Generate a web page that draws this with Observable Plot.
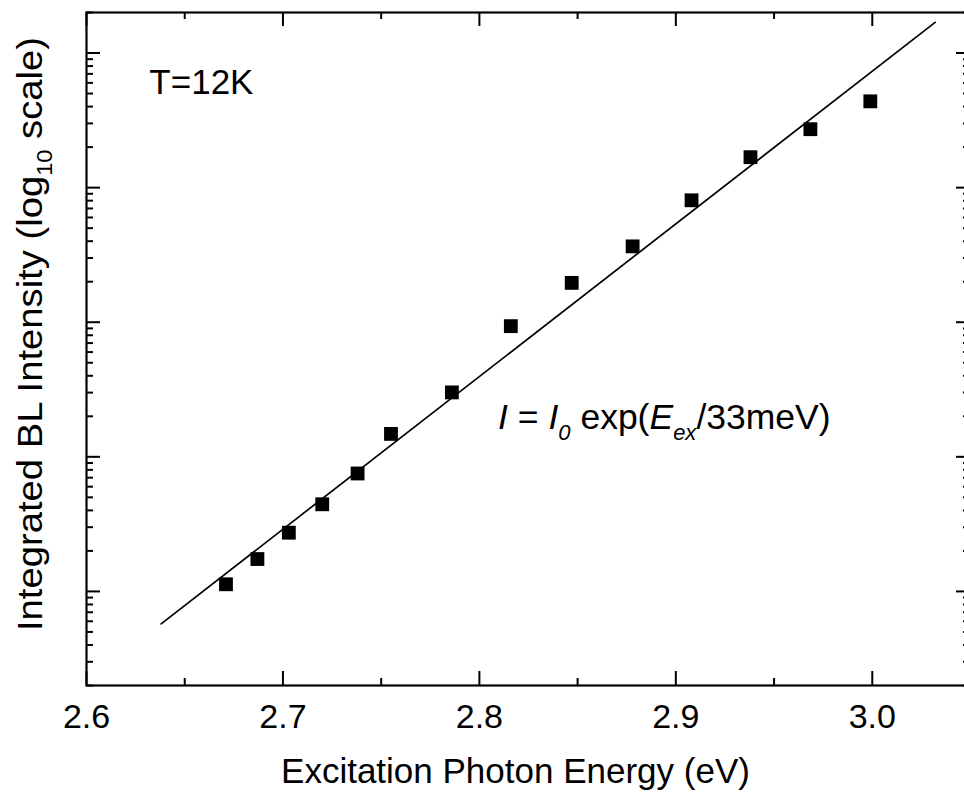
<!DOCTYPE html>
<html><head><meta charset="utf-8">
<script src="https://cdn.jsdelivr.net/npm/d3@7"></script>
<script src="https://cdn.jsdelivr.net/npm/@observablehq/plot@0.6"></script>
<style>html,body{margin:0;padding:0;background:#fff;overflow:hidden;}</style>
</head><body><div id="chart"></div>
<script>
// Data
const energy = [2.671, 2.687, 2.703, 2.720, 2.738, 2.755, 2.786, 2.816, 2.847, 2.878, 2.908, 2.938, 2.9685, 2.999];
const intensity = [1.13, 1.74, 2.73, 4.44, 7.52, 14.8, 30.1, 93.5, 196, 366, 805, 1683, 2717, 4375];
const fitEnergy = [2.638, 3.032];
const fitIntensity = [0.574, 16900];
const xMajor = [2.6, 2.7, 2.8, 2.9, 3.0];
const xTickLabels = ["2.6", "2.7", "2.8", "2.9", "3.0"];
const xMinor = [2.65, 2.75, 2.85, 2.95, 3.05];
const yMajor = [1, 10, 100, 1000, 10000];
const yMinorMantissa = [2, 3, 4, 5, 6, 7, 8, 9];
const yDecades = [0.1, 1, 10, 100, 1000, 10000];
const xLabel = "Excitation Photon Energy (eV)";
const yLabel = "Integrated BL Intensity (log10 scale)";
const tempLabel = "T=12K";
const eqLabel = "I = I0 exp(Eex/33meV)";

const yMinor = yDecades.flatMap(d => yMinorMantissa.map(m => m * d)).filter(v => v >= 0.2 && v <= 20000);
const points = energy.map((e, i) => ({e, v: intensity[i]}));
const fit = fitEnergy.map((e, i) => ({e, v: fitIntensity[i]}));

const width = 964, height = 801;
const mL = 86, mR = -6, mT = 12, mB = 116;
const FW = width - mL - mR, FH = height - mT - mB;
const font = "'Liberation Sans', Arial, Helvetica, sans-serif";

const plot = Plot.plot({
  width, height,
  marginLeft: mL, marginRight: mR, marginTop: mT, marginBottom: mB,
  style: {fontFamily: font, background: "white", color: "black"},
  x: {domain: [2.6, 3.05], axis: null},
  y: {type: "log", domain: [0.2, 20000], axis: null},
  marks: [
    Plot.tickX(xMajor, {x: d => d, insetTop: FH - 14, strokeWidth: 2}),
    Plot.tickX(xMinor, {x: d => d, insetTop: FH - 7, strokeWidth: 2}),
    Plot.tickX(xMajor, {x: d => d, insetBottom: FH - 14, strokeWidth: 2}),
    Plot.tickX(xMinor, {x: d => d, insetBottom: FH - 7, strokeWidth: 2}),
    Plot.tickY(yMajor, {y: d => d, insetRight: FW - 14, strokeWidth: 2}),
    Plot.tickY(yMinor, {y: d => d, insetRight: FW - 7, strokeWidth: 2}),
    Plot.tickY(yMajor, {y: d => d, insetLeft: FW - 14, strokeWidth: 2}),
    Plot.tickY(yMinor, {y: d => d, insetLeft: FW - 7, strokeWidth: 2}),
    Plot.frame({strokeWidth: 2.2}),
    Plot.line(fit, {x: "e", y: "v", strokeWidth: 1.7, stroke: "black"}),
    Plot.dot(points, {x: "e", y: "v", symbol: "square", r: 7.8, fill: "black", stroke: "none"}),
    Plot.text(xMajor, {x: d => d, text: (d, i) => xTickLabels[i], frameAnchor: "bottom", dy: 42, fontSize: 34}),
    Plot.text([xLabel], {frameAnchor: "bottom", dx: -13, dy: 97, fontSize: 35}),
    Plot.text([yLabel], {frameAnchor: "left", textAnchor: "middle", rotate: -90, dx: -56, dy: -15, fontSize: 35}),
    Plot.text([tempLabel], {x: [2.632], y: [6030], textAnchor: "start", fontSize: 35}),
    Plot.text([eqLabel], {x: [2.8095], y: [19.5], textAnchor: "start", fontSize: 35.5})
  ]
});
document.getElementById("chart").appendChild(plot);

function rich(sel, parts, size) {
  sel.text(null);
  let cur = 0;
  for (const p of parts) {
    const target = p.sub ? size * 0.3 : 0;
    const ts = sel.append("tspan").text(p.t);
    if (target !== cur) { ts.attr("dy", target - cur); cur = target; }
    if (p.sub) ts.attr("font-size", size * 0.62);
    if (p.it) ts.attr("font-style", "italic");
  }
}
function findText(content) {
  const el = Array.from(plot.querySelectorAll("text")).find(t => t.textContent === content);
  return el ? d3.select(el) : null;
}
const yl = findText(yLabel);
if (yl) {
  rich(yl, [{t: "Integrated BL Intensity (log"}, {t: "10", sub: true}, {t: " scale)"}], 35);
  yl.attr("textLength", 594).attr("lengthAdjust", "spacingAndGlyphs");
}
const eq = findText(eqLabel);
if (eq) rich(eq, [
  {t: "I", it: true}, {t: " = "}, {t: "I", it: true}, {t: "0", it: true, sub: true},
  {t: " exp("}, {t: "E", it: true}, {t: "ex", it: true, sub: true}, {t: "/33meV)"}
], 35.5);
</script></body></html>
